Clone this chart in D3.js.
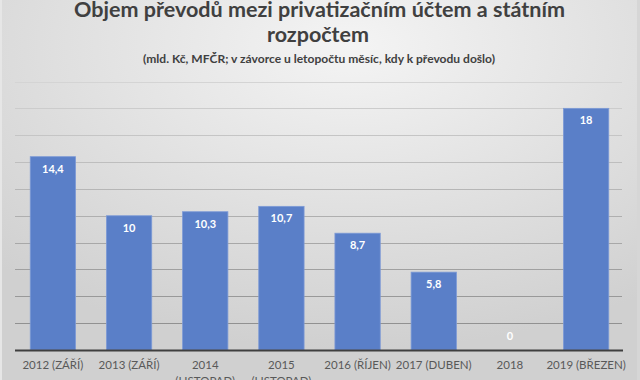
<!DOCTYPE html>
<html><head><meta charset="utf-8">
<script src="https://cdn.jsdelivr.net/npm/d3@7"></script>
<style>body{margin:0;background:#fff}svg{display:block}</style>
</head><body><svg id="c" width="640" height="380"></svg>
<script>
const categories = ["2012 (ZÁŘÍ)", "2013 (ZÁŘÍ)", "2014 (LISTOPAD)", "2015 (LISTOPAD)", "2016 (ŘÍJEN)", "2017 (DUBEN)", "2018", "2019 (BŘEZEN)"];
const values = [14.4, 10, 10.3, 10.7, 8.7, 5.8, 0, 18];
const labels = ["14,4", "10", "10,3", "10,7", "8,7", "5,8", "0", "18"];
const gridTicks = [0, 2, 4, 6, 8, 10, 12, 14, 16, 18, 20];
const titleLines = ["Objem převodů mezi privatizačním účtem a státním", "rozpočtem"];
const subtitle = "(mld. Kč, MFČR; v závorce u letopočtu měsíc, kdy k převodu došlo)";

const W = 640, H = 380;
const svg = d3.select("#c");
const defs = svg.append("defs");
const rg = defs.append("radialGradient").attr("id","bg")
  .attr("cx","0.55").attr("cy","0.12").attr("r","0.8").attr("fx","0.55").attr("fy","0.12");
rg.append("stop").attr("offset","0").attr("stop-color","#f4f4f4");
rg.append("stop").attr("offset","1").attr("stop-color","#d0d0d0");
svg.append("rect").attr("width",W).attr("height",H).attr("fill","url(#bg)");
svg.append("rect").attr("x",0).attr("y",0).attr("width",2).attr("height",H).attr("fill","#e6e6e6");
svg.append("rect").attr("x",637).attr("y",0).attr("width",3).attr("height",H).attr("fill","#d6d6d6");

const x = d3.scaleBand().domain(categories).range([15, 624]).paddingInner(0.405).paddingOuter(0.2);
const y = d3.scaleLinear().domain([0, 20]).range([350, 81.5]);

const gridColor = d3.scaleLinear().domain([81, 350]).range(["#d4d4d4", "#8a8a8a"]);
svg.append("g").selectAll("line").data(gridTicks.filter(d => d > 0)).join("line")
  .attr("x1", 15).attr("x2", 622)
  .attr("y1", d => Math.round(y(d)) + 0.5).attr("y2", d => Math.round(y(d)) + 0.5)
  .attr("stroke", d => gridColor(y(d))).attr("stroke-width", 1);

svg.append("g").selectAll("rect").data(values).join("rect")
  .attr("x", (d,i) => x(categories[i]))
  .attr("width", x.bandwidth())
  .attr("y", d => y(d))
  .attr("height", d => y(0) - y(d))
  .attr("fill", "#5a7fc8")
  .attr("stroke", "#7d9ad6").attr("stroke-width", 0.8);

const xAxis = d3.axisBottom(x).tickSize(0).tickPadding(0);
const ax = svg.append("g").attr("transform", `translate(0,${y(0)})`).call(xAxis);
ax.select(".domain").remove();
svg.append("line").attr("x1",15).attr("x2",623).attr("y1",350.5).attr("y2",350.5)
  .attr("stroke","#3f3f3f").attr("stroke-width",1.8);
ax.selectAll(".tick text").each(function(d){
  const t = d3.select(this);
  t.text(null).attr("fill","#595959").style("font-family","Lato, 'Open Sans', sans-serif")
    .style("font-size","11.5px").attr("y", 0).attr("dy", null);
  const m = d.match(/^(\d{4}) \((LISTOPAD)\)$/);
  const lines = m ? [m[1], "(" + m[2] + ")"] : [d];
  lines.forEach((ln, k) => t.append("tspan").attr("x", 0).attr("y", 19 + k*16).text(ln));
});

svg.append("g").selectAll("text").data(values).join("text")
  .attr("x", (d,i) => x(categories[i]) + x.bandwidth()/2)
  .attr("y", d => Math.min(y(d) + 16, y(0) - 10))
  .attr("text-anchor","middle").attr("fill","#ffffff")
  .style("font-family","Lato, 'Open Sans', sans-serif").style("font-weight","bold").style("font-size","11px")
  .text((d,i) => labels[i]);

const tcol = "#404040";
svg.append("text").attr("x", 319.5).attr("y", 17).attr("text-anchor","middle")
  .attr("fill", tcol).style("font-family","Lato, 'Open Sans', sans-serif").style("font-weight","bold")
  .style("font-size","21px").attr("textLength", 491).attr("lengthAdjust","spacingAndGlyphs")
  .text(titleLines[0]);
svg.append("text").attr("x", 318).attr("y", 42).attr("text-anchor","middle")
  .attr("fill", tcol).style("font-family","Lato, 'Open Sans', sans-serif").style("font-weight","bold")
  .style("font-size","21px").attr("textLength", 102).attr("lengthAdjust","spacingAndGlyphs")
  .text(titleLines[1]);
svg.append("text").attr("x", 319).attr("y", 63).attr("text-anchor","middle")
  .attr("fill", tcol).style("font-family","Lato, 'Open Sans', sans-serif").style("font-weight","bold")
  .style("font-size","12px").attr("textLength", 352).attr("lengthAdjust","spacingAndGlyphs")
  .text(subtitle);
</script></body></html>
